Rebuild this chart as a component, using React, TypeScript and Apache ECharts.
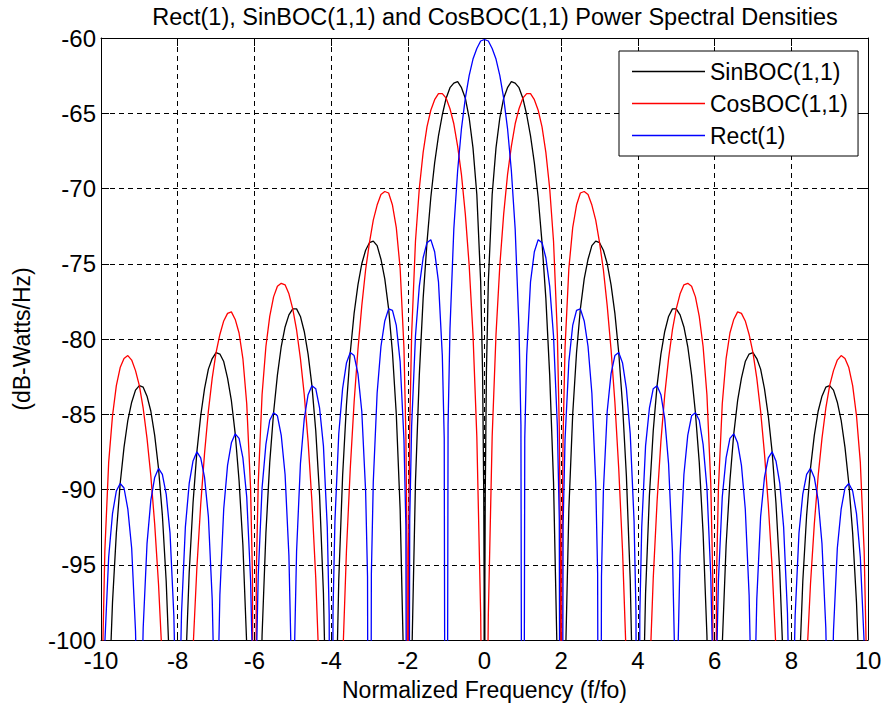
import React, { useEffect, useRef } from "react";
import * as echarts from "echarts";

const TITLE = "Rect(1), SinBOC(1,1) and CosBOC(1,1) Power Spectral Densities";
const X_NAME = "Normalized Frequency (f/fo)";
const Y_NAME = "(dB-Watts/Hz)";
const SERIES_NAMES = ["SinBOC(1,1)", "CosBOC(1,1)", "Rect(1)"];
const SERIES_COLORS = ["#000000", "#ff0000", "#0000ff"];

// [normalized frequency, dB-Watts/Hz] (nulls drawn below the axis floor)
const sinBocPoints: [number, number][] = [
  [-10,-150],[-9.9,-116.2],[-9.8,-104.3],[-9.7,-97.5],[-9.6,-92.9],[-9.5,-89.6],[-9.4,-87.2],[-9.3,-85.4],[-9.2,-84.2],[-9.1,-83.4],[-9,-83.1],[-8.9,-83.2],[-8.8,-83.8],[-8.7,-84.8],[-8.6,-86.4],[-8.5,-88.6],[-8.4,-91.7],[-8.3,-96.1],[-8.2,-102.7],[-8.1,-114.4],
  [-8,-150],[-7.9,-114.2],[-7.8,-102.3],[-7.7,-95.5],[-7.6,-90.9],[-7.5,-87.5],[-7.4,-85.1],[-7.3,-83.3],[-7.2,-82.0],[-7.1,-81.3],[-7,-80.9],[-6.9,-81.0],[-6.8,-81.5],[-6.7,-82.6],[-6.6,-84.1],[-6.5,-86.3],[-6.4,-89.4],[-6.3,-93.7],[-6.2,-100.3],[-6.1,-112.0],
  [-6,-150],[-5.9,-111.7],[-5.8,-99.7],[-5.7,-92.9],[-5.6,-88.2],[-5.5,-84.9],[-5.4,-82.4],[-5.3,-80.5],[-5.2,-79.2],[-5.1,-78.4],[-5,-78.0],[-4.9,-78.0],[-4.8,-78.5],[-4.7,-79.5],[-4.6,-81.0],[-4.5,-83.1],[-4.4,-86.1],[-4.3,-90.4],[-4.2,-96.9],[-4.1,-108.5],
  [-4,-150],[-3.9,-108.1],[-3.8,-96.0],[-3.7,-89.1],[-3.6,-84.4],[-3.5,-80.9],[-3.4,-78.3],[-3.3,-76.4],[-3.2,-75.0],[-3.1,-74.1],[-3,-73.6],[-2.9,-73.5],[-2.8,-73.8],[-2.7,-74.7],[-2.6,-76.0],[-2.5,-78.0],[-2.4,-80.9],[-2.3,-85.0],[-2.2,-91.3],[-2.1,-102.7],
  [-2,-150],[-1.9,-101.8],[-1.8,-89.5],[-1.7,-82.4],[-1.6,-77.3],[-1.5,-73.6],[-1.4,-70.6],[-1.3,-68.3],[-1.2,-66.5],[-1.1,-65.1],[-1,-64.0],[-0.9,-63.3],[-0.8,-63.0],[-0.7,-62.9],[-0.6,-63.3],[-0.5,-64.0],[-0.4,-65.3],[-0.3,-67.3],[-0.2,-70.4],[-0.1,-76.2],[-0.05,-82.2],[-0.02,-90.2],[-0.01,-96.2],
  [0,-150],
  [0.01,-96.2],[0.02,-90.2],[0.05,-82.2],[0.1,-76.2],[0.2,-70.4],[0.3,-67.3],[0.4,-65.3],[0.5,-64.0],[0.6,-63.3],[0.7,-62.9],[0.8,-63.0],[0.9,-63.3],[1,-64.0],[1.1,-65.1],[1.2,-66.5],[1.3,-68.3],[1.4,-70.6],[1.5,-73.6],[1.6,-77.3],[1.7,-82.4],[1.8,-89.5],[1.9,-101.8],
  [2,-150],[2.1,-102.7],[2.2,-91.3],[2.3,-85.0],[2.4,-80.9],[2.5,-78.0],[2.6,-76.0],[2.7,-74.7],[2.8,-73.8],[2.9,-73.5],[3,-73.6],[3.1,-74.1],[3.2,-75.0],[3.3,-76.4],[3.4,-78.3],[3.5,-80.9],[3.6,-84.4],[3.7,-89.1],[3.8,-96.0],[3.9,-108.1],
  [4,-150],[4.1,-108.5],[4.2,-96.9],[4.3,-90.4],[4.4,-86.1],[4.5,-83.1],[4.6,-81.0],[4.7,-79.5],[4.8,-78.5],[4.9,-78.0],[5,-78.0],[5.1,-78.4],[5.2,-79.2],[5.3,-80.5],[5.4,-82.4],[5.5,-84.9],[5.6,-88.2],[5.7,-92.9],[5.8,-99.7],[5.9,-111.7],
  [6,-150],[6.1,-112.0],[6.2,-100.3],[6.3,-93.7],[6.4,-89.4],[6.5,-86.3],[6.6,-84.1],[6.7,-82.6],[6.8,-81.5],[6.9,-81.0],[7,-80.9],[7.1,-81.3],[7.2,-82.0],[7.3,-83.3],[7.4,-85.1],[7.5,-87.5],[7.6,-90.9],[7.7,-95.5],[7.8,-102.3],[7.9,-114.2],
  [8,-150],[8.1,-114.4],[8.2,-102.7],[8.3,-96.1],[8.4,-91.7],[8.5,-88.6],[8.6,-86.4],[8.7,-84.8],[8.8,-83.8],[8.9,-83.2],[9,-83.1],[9.1,-83.4],[9.2,-84.2],[9.3,-85.4],[9.4,-87.2],[9.5,-89.6],[9.6,-92.9],[9.7,-97.5],[9.8,-104.3],[9.9,-116.2],[10,-150],
];

const cosBocPoints: [number, number][] = [
  [-10,-150],[-9.95,-100.1],[-9.9,-94.1],[-9.8,-88.2],[-9.7,-85.1],[-9.6,-83.1],[-9.5,-81.9],[-9.4,-81.3],[-9.3,-81.1],[-9.2,-81.4],[-9.1,-82.1],[-9,-83.1],[-8.9,-84.6],[-8.8,-86.6],[-8.7,-89.1],[-8.6,-92.3],[-8.5,-96.3],[-8.4,-101.5],[-8.3,-108.5],[-8.2,-118.7],[-8.1,-136.5],
  [-8,-150],[-7.9,-136.3],[-7.8,-118.3],[-7.7,-107.9],[-7.6,-100.6],[-7.5,-95.2],[-7.4,-91.0],[-7.3,-87.6],[-7.2,-84.8],[-7.1,-82.6],[-7,-80.9],[-6.9,-79.7],[-6.8,-78.8],[-6.7,-78.3],[-6.6,-78.2],[-6.5,-78.7],[-6.4,-79.6],[-6.3,-81.3],[-6.2,-84.3],[-6.1,-89.9],[-6.05,-95.8],
  [-6,-150],[-5.95,-95.6],[-5.9,-89.6],[-5.8,-83.7],[-5.7,-80.5],[-5.6,-78.5],[-5.5,-77.2],[-5.4,-76.5],[-5.3,-76.3],[-5.2,-76.4],[-5.1,-77.0],[-5,-78.0],[-4.9,-79.4],[-4.8,-81.3],[-4.7,-83.7],[-4.6,-86.8],[-4.5,-90.8],[-4.4,-95.9],[-4.3,-102.8],[-4.2,-112.9],[-4.1,-130.6],
  [-4,-150],[-3.9,-130.2],[-3.8,-112.0],[-3.7,-101.5],[-3.6,-94.1],[-3.5,-88.6],[-3.4,-84.2],[-3.3,-80.7],[-3.2,-77.8],[-3.1,-75.4],[-3,-73.6],[-2.9,-72.1],[-2.8,-71.1],[-2.7,-70.4],[-2.6,-70.2],[-2.5,-70.3],[-2.4,-71.1],[-2.3,-72.6],[-2.2,-75.3],[-2.1,-80.6],[-2.05,-86.4],[-2.02,-94.2],
  [-2,-150],[-1.98,-94.0],[-1.95,-85.9],[-1.9,-79.7],[-1.8,-73.5],[-1.7,-70.0],[-1.6,-67.6],[-1.5,-65.9],[-1.4,-64.8],[-1.3,-64.1],[-1.2,-63.7],[-1.1,-63.7],[-1,-64.0],[-0.9,-64.7],[-0.8,-65.7],[-0.7,-67.2],[-0.6,-69.1],[-0.5,-71.7],[-0.4,-75.1],[-0.3,-79.7],[-0.2,-86.5],[-0.1,-98.3],[-0.05,-110.3],
  [0,-150],
  [0.05,-110.3],[0.1,-98.3],[0.2,-86.5],[0.3,-79.7],[0.4,-75.1],[0.5,-71.7],[0.6,-69.1],[0.7,-67.2],[0.8,-65.7],[0.9,-64.7],[1,-64.0],[1.1,-63.7],[1.2,-63.7],[1.3,-64.1],[1.4,-64.8],[1.5,-65.9],[1.6,-67.6],[1.7,-70.0],[1.8,-73.5],[1.9,-79.7],[1.95,-85.9],[1.98,-94.0],
  [2,-150],[2.02,-94.2],[2.05,-86.4],[2.1,-80.6],[2.2,-75.3],[2.3,-72.6],[2.4,-71.1],[2.5,-70.3],[2.6,-70.2],[2.7,-70.4],[2.8,-71.1],[2.9,-72.1],[3,-73.6],[3.1,-75.4],[3.2,-77.8],[3.3,-80.7],[3.4,-84.2],[3.5,-88.6],[3.6,-94.1],[3.7,-101.5],[3.8,-112.0],[3.9,-130.2],
  [4,-150],[4.1,-130.6],[4.2,-112.9],[4.3,-102.8],[4.4,-95.9],[4.5,-90.8],[4.6,-86.8],[4.7,-83.7],[4.8,-81.3],[4.9,-79.4],[5,-78.0],[5.1,-77.0],[5.2,-76.4],[5.3,-76.3],[5.4,-76.5],[5.5,-77.2],[5.6,-78.5],[5.7,-80.5],[5.8,-83.7],[5.9,-89.6],[5.95,-95.6],
  [6,-150],[6.05,-95.8],[6.1,-89.9],[6.2,-84.3],[6.3,-81.3],[6.4,-79.6],[6.5,-78.7],[6.6,-78.2],[6.7,-78.3],[6.8,-78.8],[6.9,-79.7],[7,-80.9],[7.1,-82.6],[7.2,-84.8],[7.3,-87.6],[7.4,-91.0],[7.5,-95.2],[7.6,-100.6],[7.7,-107.9],[7.8,-118.3],[7.9,-136.3],
  [8,-150],[8.1,-136.5],[8.2,-118.7],[8.3,-108.5],[8.4,-101.5],[8.5,-96.3],[8.6,-92.3],[8.7,-89.1],[8.8,-86.6],[8.9,-84.6],[9,-83.1],[9.1,-82.1],[9.2,-81.4],[9.3,-81.1],[9.4,-81.3],[9.5,-81.9],[9.6,-83.1],[9.7,-85.1],[9.8,-88.2],[9.9,-94.1],[9.95,-100.1],[10,-150],
];

const rectPoints: [number, number][] = [
  [-10,-150],[-9.95,-106.1],[-9.9,-100.2],[-9.8,-94.5],[-9.7,-91.6],[-9.6,-90.1],[-9.5,-89.6],[-9.4,-89.9],[-9.3,-91.3],[-9.2,-93.9],[-9.1,-99.4],[-9.05,-105.3],
  [-9,-150],[-8.95,-105.2],[-8.9,-99.2],[-8.8,-93.6],[-8.7,-90.7],[-8.6,-89.2],[-8.5,-88.6],[-8.4,-89.0],[-8.3,-90.3],[-8.2,-92.9],[-8.1,-98.4],[-8.05,-104.3],
  [-8,-150],[-7.95,-104.2],[-7.9,-98.2],[-7.8,-92.5],[-7.7,-89.6],[-7.6,-88.1],[-7.5,-87.5],[-7.4,-87.9],[-7.3,-89.2],[-7.2,-91.8],[-7.1,-97.3],[-7.05,-103.1],
  [-7,-150],[-6.95,-103.0],[-6.9,-97.0],[-6.8,-91.3],[-6.7,-88.4],[-6.6,-86.9],[-6.5,-86.3],[-6.4,-86.6],[-6.3,-87.9],[-6.2,-90.5],[-6.1,-96.0],[-6.05,-101.8],
  [-6,-150],[-5.95,-101.7],[-5.9,-95.7],[-5.8,-89.9],[-5.7,-87.0],[-5.6,-85.4],[-5.5,-84.9],[-5.4,-85.1],[-5.3,-86.4],[-5.2,-89.0],[-5.1,-94.4],[-5.05,-100.2],
  [-5,-150],[-4.95,-100.1],[-4.9,-94.1],[-4.8,-88.3],[-4.7,-85.3],[-4.6,-83.7],[-4.5,-83.1],[-4.4,-83.3],[-4.3,-84.6],[-4.2,-87.1],[-4.1,-92.5],[-4.05,-98.3],
  [-4,-150],[-3.95,-98.1],[-3.9,-92.1],[-3.8,-86.3],[-3.7,-83.3],[-3.6,-81.6],[-3.5,-80.9],[-3.4,-81.1],[-3.3,-82.3],[-3.2,-84.8],[-3.1,-90.1],[-3.05,-95.8],
  [-3,-150],[-2.95,-95.6],[-2.9,-89.5],[-2.8,-83.6],[-2.7,-80.5],[-2.6,-78.8],[-2.5,-78.0],[-2.4,-78.1],[-2.3,-79.1],[-2.2,-81.5],[-2.1,-86.7],[-2.05,-92.4],
  [-2,-150],[-1.95,-92.0],[-1.9,-85.8],[-1.8,-79.8],[-1.7,-76.5],[-1.6,-74.6],[-1.5,-73.6],[-1.4,-73.4],[-1.3,-74.2],[-1.2,-76.2],[-1.1,-81.1],[-1.05,-86.6],
  [-1,-150],[-0.95,-85.7],[-0.9,-79.3],[-0.8,-72.7],[-0.7,-68.8],[-0.6,-66.0],[-0.5,-64.0],[-0.4,-62.5],[-0.3,-61.4],[-0.2,-60.7],[-0.1,-60.2],
  [0,-60.1],
  [0.1,-60.2],[0.2,-60.7],[0.3,-61.4],[0.4,-62.5],[0.5,-64.0],[0.6,-66.0],[0.7,-68.8],[0.8,-72.7],[0.9,-79.3],[0.95,-85.7],
  [1,-150],[1.05,-86.6],[1.1,-81.1],[1.2,-76.2],[1.3,-74.2],[1.4,-73.4],[1.5,-73.6],[1.6,-74.6],[1.7,-76.5],[1.8,-79.8],[1.9,-85.8],[1.95,-92.0],
  [2,-150],[2.05,-92.4],[2.1,-86.7],[2.2,-81.5],[2.3,-79.1],[2.4,-78.1],[2.5,-78.0],[2.6,-78.8],[2.7,-80.5],[2.8,-83.6],[2.9,-89.5],[2.95,-95.6],
  [3,-150],[3.05,-95.8],[3.1,-90.1],[3.2,-84.8],[3.3,-82.3],[3.4,-81.1],[3.5,-80.9],[3.6,-81.6],[3.7,-83.3],[3.8,-86.3],[3.9,-92.1],[3.95,-98.1],
  [4,-150],[4.05,-98.3],[4.1,-92.5],[4.2,-87.1],[4.3,-84.6],[4.4,-83.3],[4.5,-83.1],[4.6,-83.7],[4.7,-85.3],[4.8,-88.3],[4.9,-94.1],[4.95,-100.1],
  [5,-150],[5.05,-100.2],[5.1,-94.4],[5.2,-89.0],[5.3,-86.4],[5.4,-85.1],[5.5,-84.9],[5.6,-85.4],[5.7,-87.0],[5.8,-89.9],[5.9,-95.7],[5.95,-101.7],
  [6,-150],[6.05,-101.8],[6.1,-96.0],[6.2,-90.5],[6.3,-87.9],[6.4,-86.6],[6.5,-86.3],[6.6,-86.9],[6.7,-88.4],[6.8,-91.3],[6.9,-97.0],[6.95,-103.0],
  [7,-150],[7.05,-103.1],[7.1,-97.3],[7.2,-91.8],[7.3,-89.2],[7.4,-87.9],[7.5,-87.5],[7.6,-88.1],[7.7,-89.6],[7.8,-92.5],[7.9,-98.2],[7.95,-104.2],
  [8,-150],[8.05,-104.3],[8.1,-98.4],[8.2,-92.9],[8.3,-90.3],[8.4,-89.0],[8.5,-88.6],[8.6,-89.2],[8.7,-90.7],[8.8,-93.6],[8.9,-99.2],[8.95,-105.2],
  [9,-150],[9.05,-105.3],[9.1,-99.4],[9.2,-93.9],[9.3,-91.3],[9.4,-89.9],[9.5,-89.6],[9.6,-90.1],[9.7,-91.6],[9.8,-94.5],[9.9,-100.2],[9.95,-106.1],[10,-150],
];

const X_MIN = -10, X_MAX = 10, X_STEP = 2;
const Y_MIN = -100, Y_MAX = -60, Y_STEP = 5;

const FONT = "'Liberation Sans', Arial, Helvetica, sans-serif";

export default function App() {
  const ref = useRef<HTMLDivElement>(null);
  useEffect(() => {
    if (!ref.current) return;
    const chart = echarts.init(ref.current, undefined, { renderer: "svg" });
    const axisLine = { show: true, onZero: false, lineStyle: { color: "#000", width: 1 } };
    const tick = { show: true, inside: true, length: 8, lineStyle: { color: "#000", width: 1 } };
    const split = { show: true, lineStyle: { color: "#000", width: 1, type: [5, 4] as any } };
    const dataSets = [sinBocPoints, cosBocPoints, rectPoints];
    chart.setOption({
      animation: false,
      backgroundColor: "#ffffff",
      textStyle: { fontFamily: FONT, color: "#000" },
      title: {
        text: TITLE,
        left: 490,
        top: 0,
        textAlign: "center",
        textStyle: { fontFamily: FONT, fontSize: 23.5, fontWeight: "normal", color: "#000" },
      },
      grid: { left: 101, top: 38, width: 767, height: 602, containLabel: false },
      legend: {
        data: SERIES_NAMES,
        orient: "vertical",
        left: 619,
        top: 51,
        icon: "rect",
        itemWidth: 73,
        itemHeight: 1.5,
        itemGap: 9,
        padding: [9, 10, 9, 13],
        borderColor: "#000",
        borderWidth: 1,
        backgroundColor: "#ffffff",
        selectedMode: false,
        textStyle: { fontFamily: FONT, fontSize: 23, lineHeight: 23, color: "#000" },
      },
      xAxis: [
        {
          type: "value", min: X_MIN, max: X_MAX, interval: X_STEP, position: "bottom",
          name: X_NAME, nameLocation: "middle", nameGap: 38,
          nameTextStyle: { fontFamily: FONT, fontSize: 23, color: "#000" },
          axisLine, axisTick: tick,
          axisLabel: { fontFamily: FONT, fontSize: 24, color: "#000", margin: 8 },
          splitLine: split,
        },
        {
          type: "value", min: X_MIN, max: X_MAX, interval: X_STEP, position: "top",
          axisLine, axisTick: tick, axisLabel: { show: false }, splitLine: { show: false },
        },
      ],
      yAxis: [
        {
          type: "value", min: Y_MIN, max: Y_MAX, interval: Y_STEP, position: "left",
          name: Y_NAME, nameLocation: "middle", nameGap: 68, nameRotate: 90,
          nameTextStyle: { fontFamily: FONT, fontSize: 23, color: "#000" },
          axisLine, axisTick: tick,
          axisLabel: { fontFamily: FONT, fontSize: 24, color: "#000", margin: 5 },
          splitLine: split,
        },
        {
          type: "value", min: Y_MIN, max: Y_MAX, interval: Y_STEP, position: "right",
          axisLine, axisTick: tick, axisLabel: { show: false }, splitLine: { show: false },
        },
      ],
      series: SERIES_NAMES.map((name, i) => ({
        name,
        type: "line",
        xAxisIndex: 0,
        yAxisIndex: 0,
        data: dataSets[i],
        showSymbol: false,
        symbol: "none",
        clip: true,
        color: SERIES_COLORS[i],
        itemStyle: { color: SERIES_COLORS[i] },
        lineStyle: { color: SERIES_COLORS[i], width: 1.3 },
        z: 3 + i,
      })),
    });
    return () => chart.dispose();
  }, []);
  return (
    <div
      ref={ref}
      style={{ position: "fixed", left: 0, top: 0, width: 890, height: 710, background: "#fff" }}
    />
  );
}
